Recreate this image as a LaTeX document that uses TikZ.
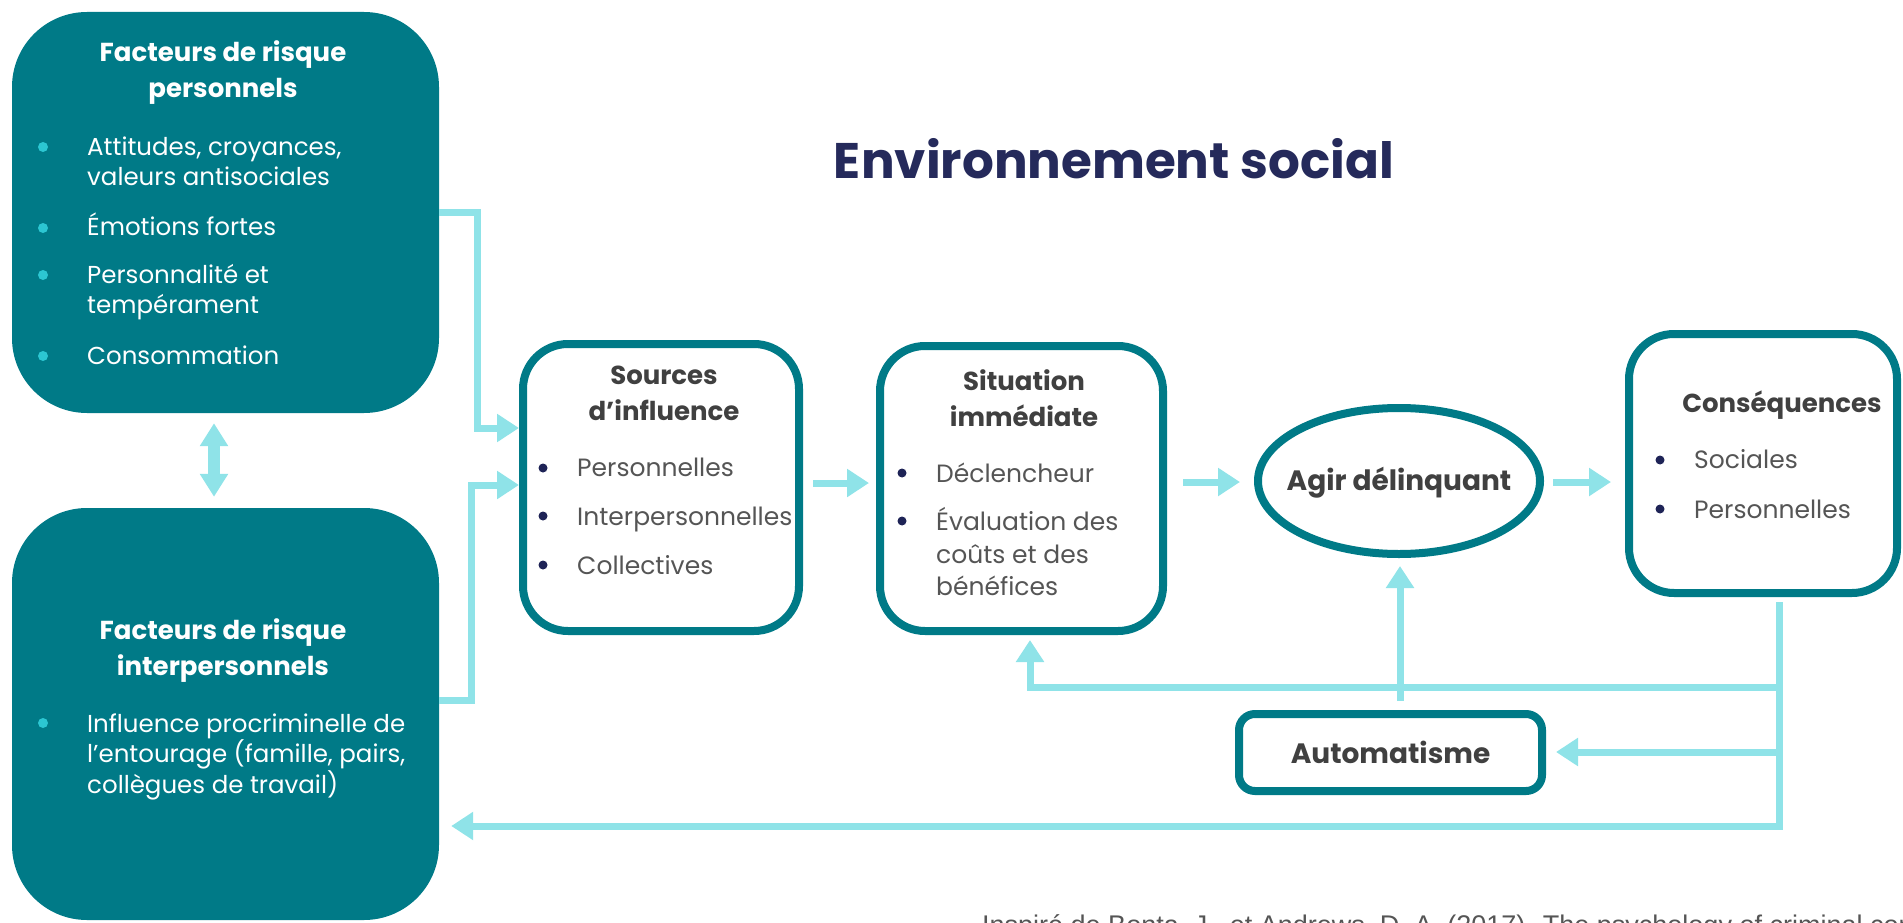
\documentclass[tikz,border=0pt]{standalone}
\usepackage{fontspec}
\setmainfont{Poppins}
\newfontfamily\citefont{Liberation Sans}
\usetikzlibrary{arrows.meta,shapes.geometric}
\definecolor{tealD}{HTML}{007A87}
\definecolor{cyanL}{HTML}{8FE3E8}
\definecolor{cyanB}{HTML}{2CC6D2}
\definecolor{navyB}{HTML}{1E2356}
\definecolor{grayT}{HTML}{555555}
\definecolor{grayH}{HTML}{404040}
\definecolor{navyH}{HTML}{252A5B}
\begin{document}
\begin{tikzpicture}[x=1pt,y=-1pt,
  darkbox/.style={fill=tealD, draw=none, rounded corners=75pt, inner sep=0pt},
  wbox/.style={draw=tealD, fill=white, line width=8pt, rounded corners=45pt, inner sep=0pt},
  autobox/.style={draw=tealD, fill=white, line width=8pt, rounded corners=16pt, inner sep=0pt,
    text=grayH, font=\bfseries\fontsize{28pt}{32pt}\selectfont},
  agirshape/.style={ellipse, draw=tealD, fill=white, line width=8pt, inner sep=0pt},
  btext/.style={text=grayH, inner sep=0pt, font=\bfseries\fontsize{28pt}{32pt}\selectfont},
  dtitle/.style={text=white, anchor=base, inner sep=0pt, font=\bfseries\fontsize{26pt}{30pt}\selectfont},
  ditem/.style={text=white, anchor=base west, inner sep=0pt, font=\fontsize{24.5pt}{30pt}\selectfont},
  wtitle/.style={text=grayH, anchor=base, inner sep=0pt, font=\bfseries\fontsize{26pt}{30pt}\selectfont},
  witem/.style={text=grayT, anchor=base west, inner sep=0pt, font=\fontsize{25pt}{30pt}\selectfont},
  conn/.style={draw=cyanL, line width=7pt, -{Triangle[length=22pt,width=27pt]}},
  plain/.style={draw=cyanL, line width=7pt},
  dbl/.style={draw=cyanL, line width=12pt, {Triangle[length=23pt,width=27pt]}-{Triangle[length=23pt,width=27pt]}},
  dotC/.style={fill=cyanB},
  dotN/.style={fill=navyB}
]
\useasboundingbox (0,0) rectangle (1903,923);
\clip (0,0) rectangle (1903,923);

% heading
\node[text=navyH, anchor=base, inner sep=0pt, font=\bfseries\fontsize{50pt}{56pt}\selectfont] (head) at (1114,178) {Environnement social};

% dark boxes
\node[darkbox, minimum width=427pt, minimum height=401pt] (riskP) at (225.5,212.5) {};
\node[darkbox, minimum width=427pt, minimum height=412pt] (riskI) at (225.5,714) {};

\node[dtitle] (tP1) at (223,62) {Facteurs de risque};
\node[dtitle] (tP2) at (223,98) {personnels};
\node[ditem] (iP1) at (87,155) {Attitudes, croyances,};
\node[ditem] (iP2) at (87,185) {valeurs antisociales};
\node[ditem] (iP3) at (87,235) {Émotions fortes};
\node[ditem] (iP4) at (87,283) {Personnalité et};
\node[ditem] (iP5) at (87,313) {tempérament};
\node[ditem] (iP6) at (87,364) {Consommation};
\foreach \yy in {147,228,275,356} \fill[dotC] (43,\yy) circle (5pt);

\node[dtitle] (tI1) at (223,639) {Facteurs de risque};
\node[dtitle] (tI2) at (223,675) {interpersonnels};
\node[ditem] (iI1) at (87,732) {Influence procriminelle de};
\node[ditem] (iI2) at (87,762) {l’entourage (famille, pairs,};
\node[ditem] (iI3) at (87,793) {collègues de travail)};
\fill[dotC] (43,723) circle (5pt);

% white boxes
\node[wbox, minimum width=276pt, minimum height=287pt] (src) at (661,487.5) {};
\node[wtitle] (tS1) at (664,384) {Sources};
\node[wtitle] (tS2) at (664,420) {d’influence};
\node[witem] (iS1) at (577,476) {Personnelles};
\node[witem] (iS2) at (577,525) {Interpersonnelles};
\node[witem] (iS3) at (577,574) {Collectives};
\foreach \yy in {468,516,565} \fill[dotN] (543,\yy) circle (4.5pt);

\node[wbox, minimum width=283pt, minimum height=285pt] (sit) at (1021.5,488.5) {};
\node[wtitle] (tT1) at (1024,390) {Situation};
\node[wtitle] (tT2) at (1024,426) {immédiate};
\node[witem] (iT1) at (936,482) {Déclencheur};
\node[witem] (iT2) at (936,530) {Évaluation des};
\node[witem] (iT3) at (936,563) {coûts et des};
\node[witem] (iT4) at (936,595) {bénéfices};
\foreach \yy in {473,521} \fill[dotN] (902,\yy) circle (4.5pt);

\node[agirshape, minimum width=282pt, minimum height=146pt] (agir) at (1399,481) {};
\node[btext] (agirT) at (1399,483) {Agir délinquant};

\node[wbox, minimum width=268pt, minimum height=259pt] (cons) at (1763,463.5) {};
\node[wtitle] (tC1) at (1782,412) {Conséquences};
\node[witem] (iC1) at (1694,468) {Sociales};
\node[witem] (iC2) at (1694,518) {Personnelles};
\foreach \yy in {460,509} \fill[dotN] (1660,\yy) circle (4.5pt);

\node[autobox, minimum width=303pt, minimum height=77pt] (auto) at (1390.5,752.5) {Automatisme};

% citation
\node[anchor=base west, inner sep=0pt, text=grayT, font=\citefont\fontsize{27pt}{30pt}\selectfont] (cite) at (982,934)
  {Inspiré de Bonta, J., et Andrews, D. A. (2017). The psychology of criminal conduct};

% connectors
\coordinate (c1) at (477,212.5);
\coordinate (c2) at (477,428);
\draw[conn] (riskP.east) -- (c1) -- (c2) -- (src.west |- c2);
\coordinate (d1) at (471,700);
\coordinate (d2) at (471,485);
\draw[conn] (riskI.east |- d1) -- (d1) -- (d2) -- (src.west |- d2);

\coordinate (u1) at (214,0);
\draw[dbl, shorten <=10pt, shorten >=11pt] (riskP.south -| u1) -- (riskI.north -| u1);

\coordinate (a1) at (0,483);
\draw[conn, shorten <=10pt, shorten >=7pt] (src.east |- a1) -- (sit.west |- a1);
\coordinate (a2) at (0,482);
\draw[conn, shorten <=16pt, shorten >=14pt] (sit.east |- a2) -- (agir.west |- a2);
\draw[conn, shorten <=9pt, shorten >=14pt] (agir.east |- a2) -- (cons.west |- a2);

\coordinate (v0) at (1779,0);
\coordinate (v1) at (1779,829.5);
\draw[plain, shorten <=5pt] (cons.south -| v0) -- (v1);

\coordinate (h1) at (1779,687);
\coordinate (h2) at (1030,687);
\draw[conn, shorten >=5pt] (h1) -- (h2) -- (sit.south -| h2);

\coordinate (h3) at (1779,752);
\draw[conn, shorten >=10pt] (h3) -- (auto.east |- h3);

\coordinate (h4) at (1779,826);
\draw[conn, shorten >=12pt] (h4) -- (riskI.east |- h4);

\coordinate (x1) at (1400,0);
\draw[conn, shorten <=9pt, shorten >=8pt] (auto.north -| x1) -- (agir.south -| x1);
\end{tikzpicture}
\end{document}
